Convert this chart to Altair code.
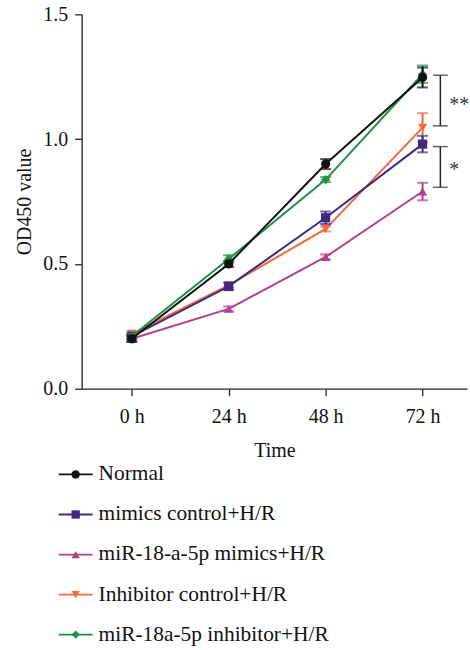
import altair as alt
import pandas as pd

# ---- data ----
times = [0, 24, 48, 72]
series = ["Normal", "mimics control+H/R", "miR-18-a-5p mimics+H/R",
          "Inhibitor control+H/R", "miR-18a-5p inhibitor+H/R"]
colors = ["#111111", "#3f2a80", "#b3418c", "#f26a44", "#1f9146"]
shapes = ["circle", "square", "triangle-up", "triangle-down", "diamond"]

normal = [0.20, 0.50, 0.90, 1.247]
normal_err = [0.012, 0.012, 0.02, 0.04]
mimics_ctrl = [0.21, 0.41, 0.685, 0.98]
mimics_ctrl_err = [0.01, 0.015, 0.025, 0.033]
mir_mimics = [0.20, 0.32, 0.528, 0.79]
mir_mimics_err = [0.01, 0.01, 0.01, 0.035]
inh_ctrl = [0.22, 0.415, 0.64, 1.046]
inh_ctrl_err = [0.01, 0.01, 0.01, 0.058]
inh = [0.21, 0.52, 0.838, 1.26]
inh_err = [0.01, 0.015, 0.01, 0.035]

bracket_top = [1.256, 0.97]
bracket_bottom = [1.053, 0.807]
bracket_labels = ["**", "*"]
bracket_label_y = [1.138, 0.878]
bracket_x = 76.4
bracket_text_x = 78.6

FONT = "Liberation Serif"

values = [normal, mimics_ctrl, mir_mimics, inh_ctrl, inh]
errors = [normal_err, mimics_ctrl_err, mir_mimics_err, inh_ctrl_err, inh_err]
rows = []
for s, vals, errs in zip(series, values, errors):
    for t, v, e in zip(times, vals, errs):
        rows.append({"series": s, "time": t, "od": v, "lo": v - e, "hi": v + e})
df = pd.DataFrame(rows)

xscale = alt.Scale(domain=[-12.4, 83.0], nice=False, zero=False)
yscale = alt.Scale(domain=[0, 1.5], nice=False)
color = alt.Color("series:N", scale=alt.Scale(domain=series, range=colors), legend=None)
shape = alt.Shape("series:N", scale=alt.Scale(domain=series, range=shapes), legend=None)

x_enc = alt.X("time:Q", scale=xscale, title="Time",
              axis=alt.Axis(values=times, labelExpr="datum.value + ' h'", grid=False,
                            tickSize=7, labelPadding=11, titlePadding=14,
                            domainColor="#222", tickColor="#222", domainWidth=1.3, tickWidth=1.3,
                            labelFont=FONT, titleFont=FONT, labelFontSize=20, titleFontSize=20,
                            labelColor="#111", titleColor="#111", titleFontWeight="normal"))
y_enc = alt.Y("od:Q", scale=yscale, title="OD450 value",
              axis=alt.Axis(values=[0, 0.5, 1.0, 1.5], format=".1f", grid=False,
                            tickSize=7, labelPadding=7, titlePadding=8,
                            domainColor="#222", tickColor="#222", domainWidth=1.3, tickWidth=1.3,
                            labelFont=FONT, titleFont=FONT, labelFontSize=20, titleFontSize=20,
                            labelColor="#111", titleColor="#111", titleFontWeight="normal"))

layers = []
draw_order = [2, 3, 1, 4, 0]
for i in draw_order:
    s = series[i]
    base = alt.Chart(df).transform_filter(alt.datum.series == s)
    line = base.mark_line(strokeWidth=2).encode(x=x_enc, y=y_enc, color=color)
    err = base.mark_rule(strokeWidth=2).encode(x="time:Q", y="lo:Q", y2="hi:Q", color=color)
    cap_lo = base.mark_tick(orient="horizontal", size=11, thickness=2).encode(
        x="time:Q", y="lo:Q", color=color)
    cap_hi = base.mark_tick(orient="horizontal", size=11, thickness=2).encode(
        x="time:Q", y="hi:Q", color=color)
    pts = base.mark_point(filled=True, size=85, opacity=1).encode(
        x="time:Q", y="od:Q", color=color, shape=shape)
    layers += [line, err, cap_lo, cap_hi, pts]

br_df = pd.DataFrame({"top": bracket_top, "bottom": bracket_bottom,
                      "label": bracket_labels, "ly": bracket_label_y})
br_df["x"] = bracket_x
br_df["tx"] = bracket_text_x
br_base = alt.Chart(br_df)
br_v = br_base.mark_rule(color="#222", strokeWidth=1.5).encode(x="x:Q", y="top:Q", y2="bottom:Q")
br_t = br_base.mark_tick(orient="horizontal", size=15, thickness=1.5, color="#222").encode(x="x:Q", y="top:Q")
br_b = br_base.mark_tick(orient="horizontal", size=15, thickness=1.5, color="#222").encode(x="x:Q", y="bottom:Q")
br_txt = br_base.mark_text(font=FONT, fontSize=20, align="left", baseline="middle", color="#333").encode(
    x="tx:Q", y="ly:Q", text="label:N")

main = alt.layer(*layers, br_v, br_t, br_b, br_txt).properties(width=387, height=376)

# ---- legend drawn as its own panel ----
leg_df = pd.DataFrame({"series": series})
ly = alt.Y("series:N", sort=series, axis=None, scale=alt.Scale(type="point", padding=0.35))
lbase = alt.Chart(leg_df)
lx0 = -23
l_rule = lbase.mark_rule(strokeWidth=1.8).encode(
    y=ly, x=alt.value(lx0), x2=alt.value(lx0 + 34), color=color)
l_pt = lbase.mark_point(filled=True, size=70, opacity=1).encode(
    y=ly, x=alt.value(lx0 + 17), color=color, shape=shape)
l_txt = lbase.mark_text(font=FONT, fontSize=21.5, align="left", baseline="middle", color="#111").encode(
    y=ly, x=alt.value(lx0 + 40), text="series:N")
legend = alt.layer(l_rule, l_pt, l_txt).properties(width=387, height=189)

chart = alt.vconcat(main, legend, spacing=0).configure(
    padding={"left": 15, "top": 3, "right": 0, "bottom": 0}
).configure_view(stroke=None)

chart.save("out.html", embed_options={"renderer": "svg", "actions": False})
